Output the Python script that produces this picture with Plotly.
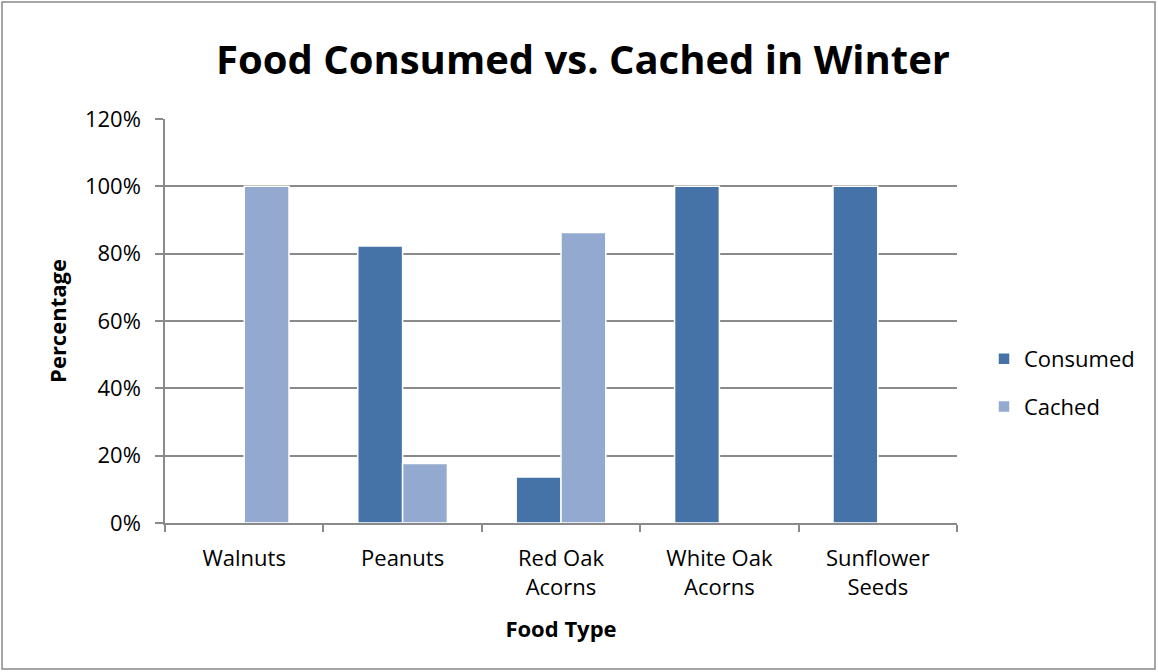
import plotly.graph_objects as go

categories = ["Walnuts", "Peanuts", "Red Oak<br>Acorns", "White Oak<br>Acorns", "Sunflower<br>Seeds"]
consumed = [0.0, 0.823, 0.137, 1.0, 1.0]
cached = [1.0, 0.177, 0.863, 0.0, 0.0]

W, H = 1158, 672
L, R, T, B = 165, 957, 119, 523

FONT = "Open Sans, sans-serif"
GRID = "#8a8a8a"

fig = go.Figure()
fig.add_trace(go.Bar(
    x=categories, y=consumed, name="Consumed", legendgroup="a",
    marker=dict(color="#4572A7", line=dict(color="white", width=1.5)),
))
fig.add_trace(go.Bar(
    x=categories, y=cached, name="Cached", legendgroup="b",
    marker=dict(color="#94A9CF", line=dict(color="white", width=1.5)),
))

# outer chart border
pw, ph = R - L, B - T
fig.add_shape(type="rect", xref="paper", yref="paper",
              x0=(2 - L) / pw, x1=(W - 3 - L) / pw,
              y0=(B - (H - 3)) / ph, y1=(B - 2) / ph,
              line=dict(color="#888888", width=1.5), fillcolor="rgba(0,0,0,0)",
              layer="below")

fig.update_layout(
    width=W, height=H,
    margin=dict(l=L, r=W - R, t=T, b=H - B, pad=0),
    paper_bgcolor="white", plot_bgcolor="white",
    font=dict(family=FONT, color="black", size=22),
    title=dict(text="<b>Food Consumed vs. Cached in Winter</b>",
               font=dict(size=40, family=FONT),
               x=583 / W, xanchor="center", y=1 - 60 / H, yanchor="middle"),
    barmode="group", bargap=0.434, bargroupgap=0.0,
    showlegend=True,
    legend=dict(x=(984 - L) / pw, xanchor="left", y=(B - 338) / ph, yanchor="top",
                font=dict(size=22, family=FONT), tracegroupgap=16,
                itemwidth=30, bgcolor="rgba(0,0,0,0)"),
    xaxis=dict(
        showline=True, linecolor=GRID, linewidth=1.5,
        ticks="outside", tickson="boundaries", ticklen=7, tickcolor=GRID, tickwidth=1.5,
        tickfont=dict(size=22, family=FONT), ticklabelstandoff=15,
        title=dict(text="<b>Food Type</b>", font=dict(size=22, family=FONT), standoff=22),
    ),
    yaxis=dict(
        range=[0, 1.2], dtick=0.2, tickformat=".0%",
        showline=True, linecolor=GRID, linewidth=1.5,
        showgrid=True, gridcolor=GRID, gridwidth=1.5,
        ticks="outside", ticklen=8, tickcolor=GRID, tickwidth=1.5,
        tickfont=dict(size=22, family=FONT), ticklabelstandoff=10,
        zeroline=False,
        title=dict(text="<b>Percentage</b>", font=dict(size=22, family=FONT), standoff=12),
    ),
)

fig.write_html("out.html")
